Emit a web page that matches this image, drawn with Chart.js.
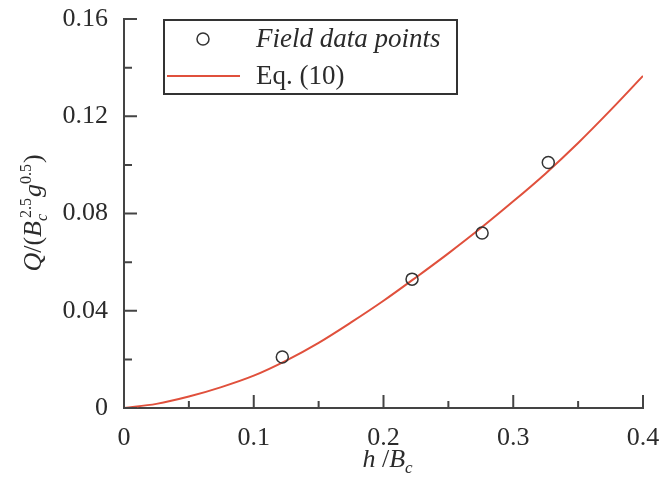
<!DOCTYPE html>
<html>
<head>
<meta charset="utf-8">
<script src="https://cdn.jsdelivr.net/npm/chart.js@4"></script>
<style>
  html, body { margin: 0; padding: 0; background: #fff; }
</style>
</head>
<body>
<canvas id="chart" width="659" height="486"></canvas>
<script>
// meetpunten uit het veld
const fieldX = [0.122, 0.222, 0.276, 0.327];
const fieldY = [0.021, 0.053, 0.072, 0.101];

// curve van Eq. (10)
const eqX = [0, 0.025, 0.05, 0.075, 0.1, 0.125, 0.15, 0.175, 0.2, 0.225, 0.25, 0.275, 0.3, 0.325, 0.35, 0.375, 0.4];
const eqY = [0, 0.0017, 0.0047, 0.0086, 0.0133, 0.0195, 0.0268, 0.0352, 0.0441, 0.0537, 0.0636, 0.0740, 0.0850, 0.0965, 0.1090, 0.1225, 0.1366];

// as-labels
const xTicks = [0, 0.1, 0.2, 0.3, 0.4];
const yTicks = [0, 0.04, 0.08, 0.12, 0.16];

const axisColor = '#444';
const textColor = '#2b2b2b';
const serif = '"Liberation Serif", "Times New Roman", serif';

// tekst met sub/superscript stukjes tekenen
function drawRich(ctx, parts, cx, cy, big, small) {
  let total = 0;
  const widths = parts.map(p => {
    let w = 0;
    if (p.t) {
      ctx.font = (p.it ? 'italic ' : '') + big + 'px ' + serif;
      w = ctx.measureText(p.t).width;
    } else {
      ctx.font = 'italic ' + small + 'px ' + serif;
      const ws = p.sub ? ctx.measureText(p.sub).width : 0;
      ctx.font = small + 'px ' + serif;
      const wp = p.sup ? ctx.measureText(p.sup).width + (p.sub ? 3 : 0) : 0;
      w = Math.max(ws, wp) + 1;
    }
    total += w;
    return w;
  });
  let x = cx - total / 2;
  ctx.textBaseline = 'alphabetic';
  ctx.textAlign = 'left';
  parts.forEach((p, i) => {
    if (p.t) {
      ctx.font = (p.it ? 'italic ' : '') + big + 'px ' + serif;
      ctx.fillText(p.t, x, cy);
    } else {
      if (p.sub) {
        ctx.font = 'italic ' + small + 'px ' + serif;
        ctx.fillText(p.sub, x, cy + 6);
      }
      if (p.sup) {
        ctx.font = small + 'px ' + serif;
        ctx.fillText(p.sup, x + (p.sub ? 3 : 0), cy - 10);
      }
    }
    x += widths[i];
  });
}

// eigen plugin: tikjes naar binnen, astitels en legenda
const extrasPlugin = {
  id: 'extras',
  afterDraw(chart) {
    const { ctx, chartArea: a, scales } = chart;
    const xs = scales.x, ys = scales.y;
    ctx.save();
    ctx.strokeStyle = axisColor;
    ctx.lineWidth = 2;
    ctx.beginPath();
    xTicks.forEach((v, i) => {
      const px = xs.getPixelForValue(v);
      ctx.moveTo(px, a.bottom);
      ctx.lineTo(px, a.bottom - 13);
      if (i < xTicks.length - 1) {
        const pm = xs.getPixelForValue((v + xTicks[i + 1]) / 2);
        ctx.moveTo(pm, a.bottom);
        ctx.lineTo(pm, a.bottom - 7);
      }
    });
    yTicks.forEach((v, i) => {
      const py = ys.getPixelForValue(v);
      ctx.moveTo(a.left, py);
      ctx.lineTo(a.left + 13, py);
      if (i < yTicks.length - 1) {
        const pm = ys.getPixelForValue((v + yTicks[i + 1]) / 2);
        ctx.moveTo(a.left, pm);
        ctx.lineTo(a.left + 8, pm);
      }
    });
    ctx.stroke();

    // astitels
    ctx.fillStyle = textColor;
    drawRich(ctx, [{ t: 'h', it: true }, { t: ' /' }, { t: 'B', it: true }, { sub: 'c' }], 388, 467, 26, 17);
    ctx.save();
    ctx.translate(41, 213);
    ctx.rotate(-Math.PI / 2);
    drawRich(ctx, [{ t: 'Q', it: true }, { t: '/(' }, { t: 'B', it: true }, { sub: 'c', sup: '2.5' },
      { t: 'g', it: true }, { sup: '0.5' }, { t: ')' }], 0, 0, 26, 16);
    ctx.restore();

    // legenda
    const pts = chart.data.datasets[0];
    const eq = chart.data.datasets[1];
    ctx.fillStyle = '#fff';
    ctx.fillRect(164, 20, 293, 74);
    ctx.strokeStyle = '#333';
    ctx.lineWidth = 2;
    ctx.strokeRect(164, 20, 293, 74);
    ctx.beginPath();
    ctx.arc(203, 39, 6, 0, Math.PI * 2);
    ctx.strokeStyle = pts.pointBorderColor;
    ctx.lineWidth = pts.pointBorderWidth;
    ctx.stroke();
    ctx.beginPath();
    ctx.moveTo(167, 76);
    ctx.lineTo(240, 76);
    ctx.strokeStyle = eq.borderColor;
    ctx.lineWidth = eq.borderWidth;
    ctx.stroke();
    ctx.fillStyle = textColor;
    ctx.textAlign = 'left';
    ctx.textBaseline = 'alphabetic';
    ctx.font = 'italic 27px ' + serif;
    ctx.fillText(pts.label, 256, 47);
    ctx.font = '27px ' + serif;
    ctx.fillText(eq.label, 256, 84);
    ctx.restore();
  }
};

const canvas = document.getElementById('chart');
new Chart(canvas.getContext('2d'), {
  type: 'scatter',
  data: {
    datasets: [
      {
        label: 'Field data points',
        data: fieldX.map((x, i) => ({ x: x, y: fieldY[i] })),
        pointRadius: 6,
        pointBorderColor: '#333',
        pointBackgroundColor: 'rgba(0,0,0,0)',
        pointBorderWidth: 1.5,
        showLine: false
      },
      {
        label: 'Eq. (10)',
        data: eqX.map((x, i) => ({ x: x, y: eqY[i] })),
        borderColor: '#e0503c',
        borderWidth: 2,
        pointRadius: 0,
        showLine: true,
        fill: false,
        cubicInterpolationMode: 'monotone'
      }
    ]
  },
  options: {
    responsive: false,
    animation: false,
    layout: { padding: { top: 19, right: 16, left: 0, bottom: 0 } },
    plugins: {
      legend: { display: false },
      tooltip: { enabled: false }
    },
    scales: {
      x: {
        type: 'linear',
        min: 0,
        max: 0.4,
        afterBuildTicks: s => { s.ticks = xTicks.map(v => ({ value: v })); },
        afterFit: s => { s.height = 78; s.paddingLeft = 0; s.paddingRight = 0; },
        grid: { display: false, drawTicks: false },
        border: { display: true, color: axisColor, width: 2 },
        ticks: {
          padding: 15,
          maxRotation: 0,
          color: textColor,
          font: { family: serif, size: 26 },
          callback: v => String(v)
        }
      },
      y: {
        type: 'linear',
        min: 0,
        max: 0.16,
        afterBuildTicks: s => { s.ticks = yTicks.map(v => ({ value: v })); },
        afterFit: s => { s.width = 124; s.paddingTop = 0; s.paddingBottom = 0; },
        grid: { display: false, drawTicks: false },
        border: { display: true, color: axisColor, width: 2 },
        ticks: {
          padding: 16,
          color: textColor,
          font: { family: serif, size: 26 },
          callback: v => String(v)
        }
      }
    }
  },
  plugins: [extrasPlugin]
});
</script>
</body>
</html>
